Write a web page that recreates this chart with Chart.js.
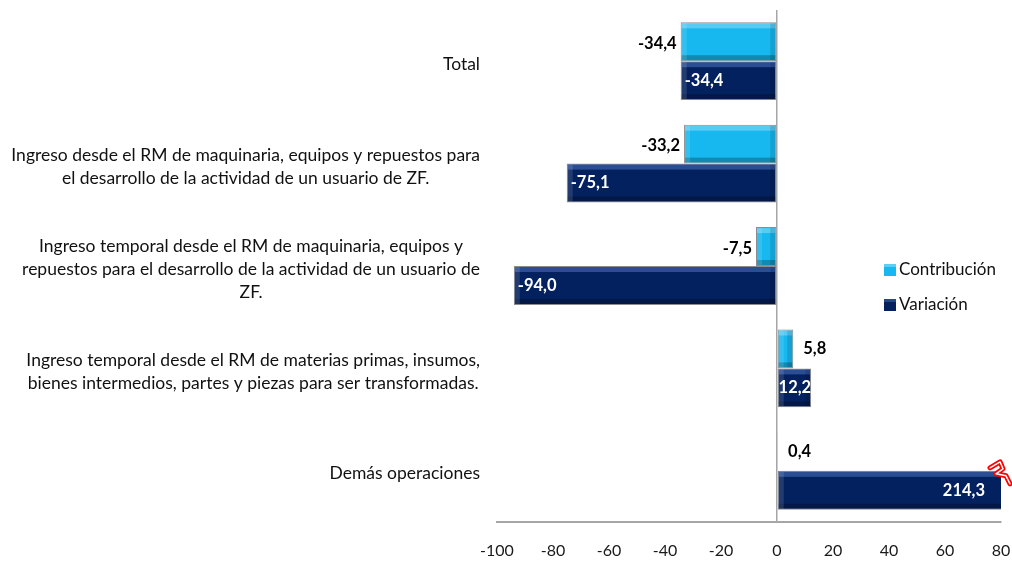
<!DOCTYPE html>
<html><head><meta charset="utf-8">
<script src="https://cdn.jsdelivr.net/npm/chart.js@4.4.1/dist/chart.umd.min.js"></script>
<style>html,body{margin:0;padding:0;background:#fff;}#wrap{width:1012px;height:561px;position:relative}</style>
</head><body><div id="wrap"><canvas id="c" width="1012" height="561"></canvas></div>
<script>
const categories = [
  ["Total"],
  ["Ingreso desde el RM de maquinaria, equipos y repuestos para", "el desarrollo de la actividad de un usuario de ZF."],
  ["Ingreso temporal desde el RM de maquinaria, equipos y", "repuestos para el desarrollo de la actividad de un usuario de", "ZF."],
  ["Ingreso temporal desde el RM de materias primas, insumos,", "bienes intermedios, partes y piezas para ser transformadas."],
  ["Demás operaciones"]
];
const contribucion = [-34.4, -33.2, -7.5, 5.8, 0.4];
const variacion = [-34.4, -75.1, -94.0, 12.2, 214.3];
const xTicks = [-100, -80, -60, -40, -20, 0, 20, 40, 60, 80];
const seriesNames = ["Contribución", "Variación"];

const LIGHT = '#17b8ef';
const NAVY = '#04215f';
const FONT = 'Lato, "Liberation Sans", sans-serif';
const fmt = v => v.toFixed(1).replace('.', ',');

const bevelPlugin = {
  id: 'bevel',
  afterDatasetsDraw(chart) {
    const ctx = chart.ctx, ca = chart.chartArea;
    ctx.save();
    ctx.beginPath(); ctx.rect(ca.left, ca.top, ca.right - ca.left, ca.bottom - ca.top); ctx.clip();
    chart.data.datasets.forEach((ds, di) => {
      const meta = chart.getDatasetMeta(di);
      meta.data.forEach(el => {
        const l = Math.min(el.x, el.base), r = Math.max(el.x, el.base);
        const t = el.y - el.height / 2, b = el.y + el.height / 2;
        const w = r - l, h = b - t;
        if (w < 3) return;
        const e = Math.min(5, w / 3);
        ctx.fillStyle = di === 0 ? 'rgba(255,255,255,0.28)' : 'rgba(90,130,210,0.45)';
        ctx.fillRect(l + 1, t + 1, w - 2, e);
        ctx.fillStyle = 'rgba(0,0,0,0.25)';
        ctx.fillRect(l + 1, b - e - 1, w - 2, e);
        ctx.fillStyle = 'rgba(0,0,0,0.12)';
        ctx.fillRect(r - e - 1, t + 1, e, h - 2);
        ctx.fillStyle = 'rgba(255,255,255,0.12)';
        ctx.fillRect(l + 1, t + 1, e, h - 2);
      });
    });
    ctx.restore();
  }
};

const labelPlugin = {
  id: 'labels',
  afterDraw(chart) {
    const ctx = chart.ctx, ca = chart.chartArea;
    const xs = chart.scales.x, ys = chart.scales.y;
    ctx.save();
    ctx.font = '17.5px ' + FONT;
    ctx.fillStyle = '#111';
    ctx.textAlign = 'center';
    ctx.textBaseline = 'middle';
    const lh = 23;
    categories.forEach((lines, i) => {
      const cy = ys.getPixelForValue(i) + 3;
      const bw = Math.max(...lines.map(s => ctx.measureText(s).width));
      const cx = ca.left - 17 - bw / 2;
      lines.forEach((s, k) => {
        ctx.fillText(s, cx, cy + (k - (lines.length - 1) / 2) * lh);
      });
    });
    ctx.font = 'bold 16.5px ' + FONT;
    chart.data.datasets.forEach((ds, di) => {
      const meta = chart.getDatasetMeta(di);
      meta.data.forEach((el, i) => {
        const v = ds.data[i];
        const end = Math.max(ca.left, Math.min(ca.right, el.x));
        const txt = fmt(v);
        if (di === 0) {
          ctx.fillStyle = '#000';
          if (v < 0) { ctx.textAlign = 'right'; ctx.fillText(txt, end - 4, el.y + 2); }
          else { ctx.textAlign = 'left'; ctx.fillText(txt, end + 10, el.y); }
        } else {
          ctx.fillStyle = '#fff';
          if (v < 0) { ctx.textAlign = 'left'; ctx.fillText(txt, end + 4, el.y); }
          else { ctx.textAlign = 'right'; ctx.fillText(txt, end - (v > xs.max ? 16 : 0), el.y); }
          if (v > xs.max) {
            const bx = ca.right, by = el.y - el.height / 2;
            ctx.save();
            ctx.strokeStyle = '#ff0000'; ctx.lineWidth = 5; ctx.lineJoin = 'round'; ctx.lineCap = 'round';
            ctx.beginPath();
            ctx.moveTo(bx - 11, by - 3); ctx.lineTo(bx - 1, by - 9); ctx.lineTo(bx + 2, by - 2);
            ctx.lineTo(bx - 5, by + 3); ctx.lineTo(bx + 5, by + 5); ctx.lineTo(bx + 9, by + 13);
            ctx.stroke();
            ctx.strokeStyle = '#ffffff'; ctx.lineWidth = 1.5;
            ctx.stroke();
            ctx.restore();
          }
        }
      });
    });
    const lx = 884, lyy = [270, 305];
    ctx.font = '17px ' + FONT;
    ctx.textAlign = 'left';
    [LIGHT, NAVY].forEach((c, k) => {
      const y = lyy[k];
      ctx.fillStyle = c;
      ctx.fillRect(lx, y - 6, 12, 12);
      ctx.fillStyle = k === 0 ? 'rgba(255,255,255,0.3)' : 'rgba(90,130,210,0.4)';
      ctx.fillRect(lx, y - 6, 12, 3);
      ctx.fillStyle = '#111';
      ctx.fillText(seriesNames[k], lx + 15, y);
    });
    ctx.restore();
  }
};

new Chart(document.getElementById('c'), {
  type: 'bar',
  data: {
    labels: categories.map(l => l.join(' ')),
    datasets: [
      { label: seriesNames[0], data: contribucion, backgroundColor: LIGHT, borderColor: '#8c8c8c', borderWidth: 1, borderSkipped: false },
      { label: seriesNames[1], data: variacion, backgroundColor: NAVY, borderColor: '#8c8c8c', borderWidth: 1, borderSkipped: false }
    ]
  },
  options: {
    indexAxis: 'y',
    responsive: false,
    animation: false,
    events: [],
    layout: { padding: { top: 10, right: 11, left: 0, bottom: 0 } },
    datasets: { bar: { categoryPercentage: 0.76, barPercentage: 1 } },
    plugins: { legend: { display: false }, tooltip: { enabled: false } },
    scales: {
      x: {
        min: -100, max: 80,
        afterBuildTicks: s => { s.ticks = xTicks.map(v => ({ value: v })); },
        afterFit: s => { s.height = 39; s.paddingRight = 0; s.paddingLeft = 0; },
        ticks: { font: { family: FONT, size: 16 }, color: '#1a1a1a', padding: 19, callback: v => String(v) },
        grid: { drawTicks: false, color: c => (c.tick && c.tick.value === 0) ? '#a6a6a6' : 'rgba(0,0,0,0)', lineWidth: 1.5 },
        border: { display: true, color: '#a6a6a6', width: 2 }
      },
      y: {
        afterFit: s => { s.width = 497; },
        ticks: { display: false },
        grid: { display: false },
        border: { display: false }
      }
    }
  },
  plugins: [bevelPlugin, labelPlugin]
});
</script>
</body></html>
